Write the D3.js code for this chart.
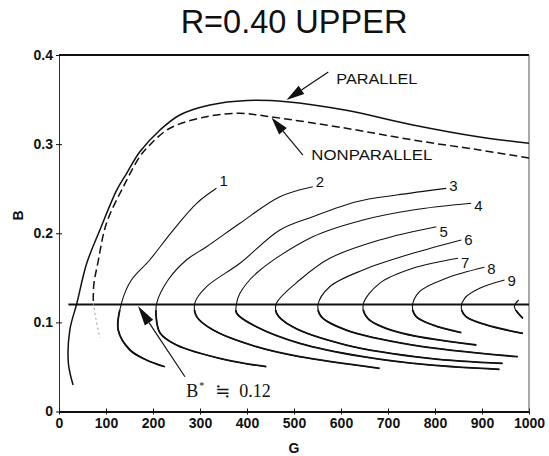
<!DOCTYPE html>
<html>
<head>
<meta charset="utf-8">
<script src="https://cdn.jsdelivr.net/npm/d3@7"></script>
<style>
  body { margin: 0; background: #fff; }
  svg { display: block; }
</style>
</head>
<body>
<svg id="chart" width="549" height="456"></svg>
<script>
// ---- data -------------------------------------------------------------
const title = "R=0.40 UPPER";
const xLabel = "G";
const yLabel = "B";
const xTicks = [0, 100, 200, 300, 400, 500, 600, 700, 800, 900, 1000];
const yTicks = [0, 0.1, 0.2, 0.3, 0.4];
const bStar = 0.12;

// stability boundaries, [G, B], running from the right edge round to the bottom
const parallelCurve = [
  [1000, 0.301], [895, 0.308], [753, 0.3215], [611, 0.338], [484, 0.3476],
  [400, 0.349], [321, 0.3439], [257, 0.3327], [215, 0.3159], [172, 0.2915],
  [144, 0.2673], [123, 0.2486], [87, 0.2036], [59, 0.1663], [38, 0.1214],
  [23, 0.0914], [20, 0.054], [30, 0.0297]
];
const nonparallelCurve = [
  [1000, 0.2844], [895, 0.2934], [753, 0.3046], [611, 0.3178], [448, 0.3308],
  [385, 0.3346], [314, 0.3308], [236, 0.3178], [193, 0.299], [172, 0.286],
  [137, 0.2523], [101, 0.2112], [83, 0.1677], [74, 0.1419], [73, 0.1217],
  [79, 0.1027], [87, 0.0825]
];

// contour lines, each from its labelled upper end round to its lower end
const curve1 = [[335, 0.2504], [293, 0.2336], [243, 0.2036], [193, 0.170], [154, 0.1475],
  [133, 0.1217], [126, 0.0914], [151, 0.069], [186, 0.0578], [225, 0.0502]];
const curve2 = [[540, 0.2522], [470, 0.241], [385, 0.2112], [314, 0.1849], [271, 0.170],
  [232, 0.1475], [208, 0.1217], [207, 0.1046], [215, 0.0881], [250, 0.0746],
  [356, 0.0578], [441, 0.0503]];
const curve3 = [[824, 0.2504], [718, 0.2429], [633, 0.2354], [540, 0.2186], [470, 0.2037],
  [385, 0.1663], [314, 0.140], [289, 0.1217], [293, 0.1064], [328, 0.0914],
  [420, 0.0727], [512, 0.0615], [682, 0.0485]];
const curve4 = [[877, 0.2336], [753, 0.2261], [647, 0.2149], [540, 0.1961],
  [420, 0.1551], [385, 0.1326], [378, 0.1217], [378, 0.1102], [420, 0.0951],
  [512, 0.0765], [647, 0.0615], [788, 0.0522], [937, 0.0473]];
const curve5 = [[803, 0.2073], [682, 0.1924], [576, 0.1719], [512, 0.1475], [463, 0.1217],
  [463, 0.1102], [497, 0.0950], [611, 0.0746], [788, 0.0597], [944, 0.0541]];
const curve6 = [[856, 0.1925], [753, 0.1775], [647, 0.1588], [576, 0.140], [551, 0.1195],
  [558, 0.1064], [611, 0.0914], [753, 0.0746], [976, 0.0615]];
const curve7 = [[849, 0.1719], [753, 0.1607], [682, 0.1438], [647, 0.1195], [657, 0.1046],
  [718, 0.0895], [888, 0.0746]];
const curve8 = [[905, 0.1618], [824, 0.1495], [767, 0.1344], [752, 0.1176], [760, 0.1064],
  [795, 0.0971], [856, 0.0884]];
const curve9 = [[948, 0.1475], [895, 0.1382], [863, 0.127], [856, 0.1158], [866, 0.1064],
  [909, 0.0971], [987, 0.0877]];
const curve10 = [[978, 0.1251], [969, 0.1176], [987, 0.1046]];

const contourCurves = [curve1, curve2, curve3, curve4, curve5, curve6, curve7, curve8, curve9, curve10];
const contourLabels = ["1", "2", "3", "4", "5", "6", "7", "8", "9", ""];

// annotation texts and the points their arrows run between, [G, B]
const parallelNote = { text: "PARALLEL", at: [590, 0.368], tail: [573, 0.381], tip: [484, 0.3496] };
const nonparallelNote = { text: "NONPARALLEL", at: [537, 0.2822], tail: [519, 0.2877], tip: [452, 0.330] };
const bStarNote = { at: [271, 0.0163], tail: [268, 0.039], tip: [168, 0.1184] };

// ---- layout -----------------------------------------------------------
const svg = d3.select("#chart");
const x = d3.scaleLinear().domain([0, 1000]).range([59, 529]);
const y = d3.scaleLinear().domain([0, 0.4]).range([411.5, 55]);
const sans = "'Liberation Sans', Arial, Helvetica, sans-serif";
const serif = "'Liberation Serif', 'Times New Roman', 'DejaVu Serif', serif";
const labelNudge = [-8, -5, -3, 2, 5, 0, 4, 1, 1, 0];
const noteWidths = { PARALLEL: 81, NONPARALLEL: 121 };

const line = d3.line()
  .x(d => x(d[0]))
  .y(d => y(d[1]))
  .curve(d3.curveCatmullRom.alpha(0.5));

// title
svg.append("text")
  .attr("x", (x(0) + x(1000)) / 2)
  .attr("y", 33)
  .attr("text-anchor", "middle")
  .style("font", `32.5px ${sans}`)
  .attr("fill", "#111")
  .text(title);

// axes
const yAxis = d3.axisLeft(y)
  .tickValues(yTicks)
  .tickFormat(d => d === 0 ? "0" : d3.format(".1f")(d))
  .tickSize(3).tickSizeOuter(0).tickPadding(3);
const gy = svg.append("g").attr("transform", `translate(${x(0)},0)`).call(yAxis);
gy.selectAll(".tick line").attr("x1", 3).attr("stroke", "#111");
gy.select(".domain").attr("stroke", "#333").attr("stroke-width", 1);
gy.selectAll(".tick text").style("font", `bold 14px ${sans}`).attr("fill", "#111");

const xAxis = d3.axisBottom(x)
  .tickValues(xTicks)
  .tickFormat(d3.format("d"))
  .tickSize(3).tickSizeOuter(0).tickPadding(3.5);
const gx = svg.append("g").attr("transform", `translate(0,${y(0)})`).call(xAxis);
gx.selectAll(".tick line").attr("y1", -3).attr("stroke", "#111");
gx.select(".domain").attr("stroke", "#111").attr("stroke-width", 2);
gx.selectAll(".tick text").style("font", `bold 14px ${sans}`).attr("fill", "#111");

// top and right frame
svg.append("line")
  .attr("x1", x(0)).attr("x2", x(1000)).attr("y1", y(0.4)).attr("y2", y(0.4))
  .attr("stroke", "#111").attr("stroke-width", 2);
svg.append("line")
  .attr("x1", x(1000)).attr("x2", x(1000)).attr("y1", y(0.4)).attr("y2", y(0))
  .attr("stroke", "#555").attr("stroke-width", 1);

// axis titles
svg.append("text")
  .attr("x", (x(0) + x(1000)) / 2).attr("y", 453)
  .attr("text-anchor", "middle")
  .style("font", `bold 14px ${sans}`).attr("fill", "#111")
  .text(xLabel);
svg.append("text")
  .attr("transform", `translate(23,${y(0.22)}) rotate(-90)`)
  .attr("text-anchor", "middle")
  .style("font", `bold 14px ${sans}`).attr("fill", "#111")
  .text(yLabel);

// B* level
svg.append("line")
  .attr("x1", x(20)).attr("x2", x(1000)).attr("y1", y(bStar)).attr("y2", y(bStar))
  .attr("stroke", "#111").attr("stroke-width", 2);

// boundaries
svg.append("path").datum(parallelCurve)
  .attr("d", line).attr("fill", "none")
  .attr("stroke", "#111").attr("stroke-width", 1.5);

const npUpper = nonparallelCurve.filter(d => d[1] >= bStar);
const npLower = nonparallelCurve.filter(d => d[1] <= 0.1217);
svg.append("path").datum(npUpper)
  .attr("d", line).attr("fill", "none")
  .attr("stroke", "#111").attr("stroke-width", 1.5)
  .attr("stroke-dasharray", "8,4");
svg.append("path").datum(npLower)
  .attr("d", line).attr("fill", "none")
  .attr("stroke", "#999").attr("stroke-width", 1)
  .attr("stroke-dasharray", "2,3");

// contour lines: thin over their whole length, heavier below the B* level
svg.append("clipPath").attr("id", "below-bstar")
  .append("rect")
  .attr("x", x(0)).attr("width", x(1000) - x(0))
  .attr("y", y(0.114)).attr("height", y(0) - y(0.114));

const gc = svg.append("g").attr("fill", "none").attr("stroke", "#111");
contourCurves.forEach((pts, i) => {
  gc.append("path").datum(pts).attr("d", line).attr("stroke-width", 1.1);
  gc.append("path").datum(pts).attr("d", line).attr("stroke-width", 1.8)
    .attr("clip-path", "url(#below-bstar)");
  if (contourLabels[i]) {
    svg.append("text")
      .attr("x", x(pts[0][0]) + 3)
      .attr("y", y(pts[0][1]) + labelNudge[i])
      .attr("dy", "0.35em")
      .style("font", `15px ${sans}`).attr("fill", "#111")
      .text(contourLabels[i]);
  }
});

// annotation arrows
function arrow(tail, tip, len = 18, half = 5) {
  const x0 = x(tail[0]), y0 = y(tail[1]), x1 = x(tip[0]), y1 = y(tip[1]);
  const dx = x1 - x0, dy = y1 - y0, L = Math.hypot(dx, dy);
  const ux = dx / L, uy = dy / L;
  const bx = x1 - ux * len, by = y1 - uy * len;
  svg.append("line")
    .attr("x1", x0).attr("y1", y0).attr("x2", bx).attr("y2", by)
    .attr("stroke", "#111").attr("stroke-width", 1.2);
  svg.append("path")
    .attr("d", `M${x1},${y1}L${bx - uy * half},${by + ux * half}L${bx + uy * half},${by - ux * half}Z`)
    .attr("fill", "#111");
}
arrow(parallelNote.tail, parallelNote.tip);
arrow(nonparallelNote.tail, nonparallelNote.tip);
arrow(bStarNote.tail, bStarNote.tip, 20, 5);

[parallelNote, nonparallelNote].forEach(n => {
  svg.append("text")
    .attr("x", x(n.at[0])).attr("y", y(n.at[1]))
    .attr("textLength", noteWidths[n.text]).attr("lengthAdjust", "spacingAndGlyphs")
    .style("font", `15px ${sans}`).attr("fill", "#111")
    .text(n.text);
});

// B* ≒ 0.12
const bx0 = x(bStarNote.at[0]), by0 = y(bStarNote.at[1]);
const bt = svg.append("text").attr("y", by0)
  .style("font", `18px ${serif}`).attr("fill", "#111");
bt.append("tspan").attr("x", bx0).text("B");
bt.append("tspan").attr("x", bx0 + 13).attr("y", by0 - 8).style("font-size", "10px").text("*");
bt.append("tspan").attr("x", bx0 + 29).attr("y", by0).text("\u2252");
bt.append("tspan").attr("x", bx0 + 53).attr("y", by0).text(d3.format(".2f")(bStar));
</script>
</body>
</html>
